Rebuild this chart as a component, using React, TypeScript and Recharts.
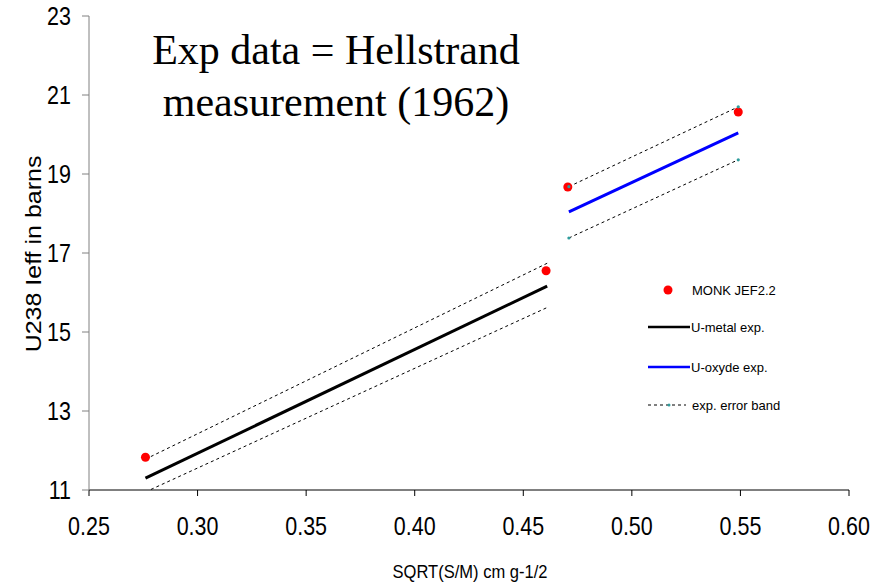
import { ComposedChart, Line, Scatter, XAxis, YAxis, Legend } from "recharts";

const xTicks = [0.25, 0.3, 0.35, 0.4, 0.45, 0.5, 0.55, 0.6];
const yTicks = [11, 13, 15, 17, 19, 21, 23];

// MONK JEF2.2 calculated points
const monkX = [0.276, 0.4605, 0.4705, 0.549];
const monkY = [11.83, 16.55, 18.67, 20.57];

// U-metal experimental fit + error band
const metalX = [0.276, 0.461];
const metalExp = [11.3, 16.16];
const metalUpper = [11.78, 16.74];
const metalLower = [10.95, 15.62];

// U-oxyde experimental fit + error band
const oxideX = [0.471, 0.549];
const oxideExp = [18.04, 20.04];
const oxideUpper = [18.68, 20.7];
const oxideLower = [17.38, 19.36];

const legendLabels = ["MONK JEF2.2", "U-metal exp.", "U-oxyde exp.", "exp. error band"];
const xTitle = "SQRT(S/M) cm g-1/2";
const yTitle = "U238 Ieff in barns";

const zip = (xs: number[], ys: number[]) => xs.map((x, i) => ({ x, y: ys[i] }));

const monkData = zip(monkX, monkY);
const metalData = zip(metalX, metalExp);
const metalUpData = zip(metalX, metalUpper);
const metalLoData = zip(metalX, metalLower);
const oxideData = zip(oxideX, oxideExp);
const oxideUpData = zip(oxideX, oxideUpper);
const oxideLoData = zip(oxideX, oxideLower);

const TEAL = "#2f9c9c";

// the original's sans text is a bit narrow, so squeeze it horizontally
const XTick = ({ x, y, payload }: any) => (
  <text transform={`translate(${x},${y}) scale(0.86,1)`} textAnchor="middle" dy="0.71em" fontSize={25} fill="#000">
    {Number(payload.value).toFixed(2)}
  </text>
);

const YTick = ({ x, y, payload }: any) => (
  <text transform={`translate(${x},${y}) scale(0.86,1)`} textAnchor="end" dy="0.355em" fontSize={25} fill="#000">
    {payload.value}
  </text>
);

const YTitle = () => (
  <text transform="translate(33,254) rotate(-90) scale(1,0.86)" textAnchor="middle" dy="0.355em" fontSize={25} fill="#000">
    {yTitle}
  </text>
);

const XTitle = () => (
  <text transform="translate(470,578) scale(0.87,1)" textAnchor="middle" fontSize={19} fill="#000">
    {xTitle}
  </text>
);

const LegendBox = () => (
  <svg width={160} height={140} style={{ fontFamily: "Liberation Sans, Arial, sans-serif" }}>
    <circle cx={28} cy={10} r={4.5} fill="#ff0000" />
    <text x={52} y={15} fontSize={13}>{legendLabels[0]}</text>
    <line x1={8} x2={50} y1={47} y2={47} stroke="#000" strokeWidth={2.5} />
    <text x={51} y={52} fontSize={13}>{legendLabels[1]}</text>
    <line x1={8} x2={50} y1={87} y2={87} stroke="#0000ff" strokeWidth={2.5} />
    <text x={51} y={92} fontSize={13}>{legendLabels[2]}</text>
    <line x1={8} x2={46} y1={125} y2={125} stroke="#000" strokeWidth={1} strokeDasharray="3 3" />
    <circle cx={29} cy={125} r={1.5} fill={TEAL} />
    <text x={52} y={130} fontSize={13}>{legendLabels[3]}</text>
  </svg>
);

const tealDot = { r: 1.6, fill: TEAL, stroke: "none" };

export default function App() {
  return (
    <div
      style={{
        position: "absolute",
        left: 0,
        top: 0,
        width: 884,
        height: 585,
        background: "#fff",
        fontFamily: "Liberation Sans, Arial, sans-serif",
      }}
    >
      <ComposedChart width={884} height={585} margin={{ top: 16, right: 35, bottom: 0, left: 0 }}>
        <XAxis
          dataKey="x"
          type="number"
          domain={[0.25, 0.6]}
          ticks={xTicks}
          height={95}
          stroke="#000"
          tickSize={6}
          tickMargin={21}
          tick={<XTick />}
        />
        <YAxis
          type="number"
          domain={[11, 23]}
          ticks={yTicks}
          allowDataOverflow
          width={89}
          stroke="#808080"
          tickSize={7}
          tickMargin={11}
          tick={<YTick />}
        />
        <Line data={metalUpData} dataKey="y" type="linear" stroke="#000" strokeWidth={1} strokeDasharray="3 3" dot={false} isAnimationActive={false} />
        <Line data={metalLoData} dataKey="y" type="linear" stroke="#000" strokeWidth={1} strokeDasharray="3 3" dot={false} isAnimationActive={false} />
        <Line data={oxideUpData} dataKey="y" type="linear" stroke="#000" strokeWidth={1} strokeDasharray="3 3" dot={tealDot} isAnimationActive={false} />
        <Line data={oxideLoData} dataKey="y" type="linear" stroke="#000" strokeWidth={1} strokeDasharray="3 3" dot={tealDot} isAnimationActive={false} />
        <Line data={metalData} dataKey="y" type="linear" stroke="#000" strokeWidth={3} dot={false} isAnimationActive={false} />
        <Line data={oxideData} dataKey="y" type="linear" stroke="#0000ff" strokeWidth={3} dot={false} isAnimationActive={false} />
        <Scatter
          data={monkData}
          dataKey="y"
          isAnimationActive={false}
          shape={(p: any) => <circle cx={p.cx} cy={p.cy} r={4.5} fill="#ff0000" />}
        />
        <Legend
          layout="vertical"
          align="center"
          verticalAlign="middle"
          content={() => <LegendBox />}
          wrapperStyle={{ left: 640, top: 280, width: 160, height: 140 }}
        />
        <XTitle />
        <YTitle />
      </ComposedChart>
      <div
        style={{
          position: "absolute",
          left: 136,
          top: 24,
          width: 400,
          textAlign: "center",
          fontFamily: "Liberation Serif, Times New Roman, serif",
          fontSize: 42,
          lineHeight: "52px",
          color: "#000",
        }}
      >
        Exp data = Hellstrand
        <br />
        measurement (1962)
      </div>
    </div>
  );
}
